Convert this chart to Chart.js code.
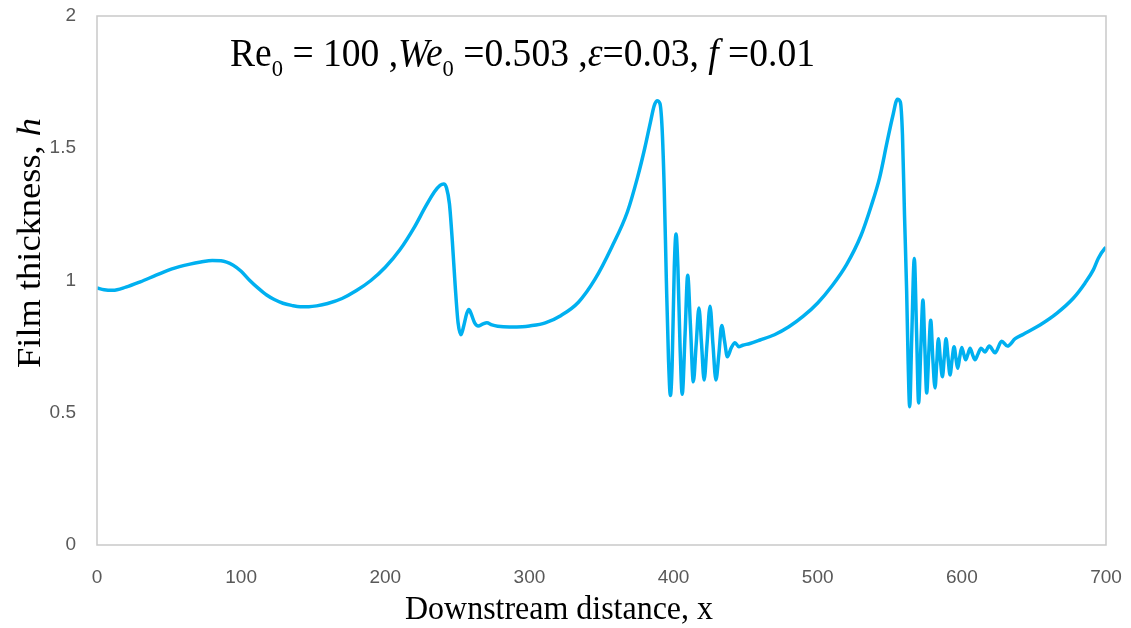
<!DOCTYPE html>
<html>
<head>
<meta charset="utf-8">
<script src="https://cdn.jsdelivr.net/npm/chart.js@4"></script>
<style>
  body { margin: 0; background: #fff; }
  #wrap { width: 1131px; height: 628px; position: relative; }
</style>
</head>
<body>
<div id="wrap"><canvas id="chart"></canvas></div>
<script>
// downstream distance x
const xValues = [
  0, 5, 11, 20, 30, 41, 52, 64.5, 72, 80, 86, 94.5, 100, 106, 112, 117.7, 123, 129, 135, 141, 147, 152.4,
  160, 170, 180, 190, 200, 210, 220, 228, 234, 238, 240.5, 242.5, 244.5, 246.5, 248.5, 250.5, 252.5,
  254.5, 256.5, 258, 259.5, 262, 264.5, 267.5, 270.5, 274, 278, 286, 295, 300, 311, 322, 334, 345.5,
  357, 368, 375, 380, 384, 386.5, 388.5, 390.5, 392, 393.5, 395, 396.5, 397.8, 399, 400.5, 401.7, 403,
  404.5, 406, 408, 409.8, 411.7, 413.7, 415.7, 417.6, 419.4, 421.2, 423.2, 425.3, 427.3, 429.4, 431.4,
  433.4, 435.4, 437.3, 440, 442.6, 445.2, 448, 453, 460, 470, 480, 490, 500, 510, 520, 530, 537, 543,
  548, 552, 555.3, 557.3, 558.8, 560.2, 561.7, 562.7, 563.8, 565.2, 567, 568.6, 570, 571.5, 573, 574.3,
  575.6, 577, 578.4, 579.9, 581.4, 582.6, 583.7, 585.1, 586.5, 587.8, 589, 590.4, 591.8, 593.2, 594.6,
  595.9, 597.1, 598.5, 599.9, 601.3, 602.7, 604.2, 605.7, 607.4, 609.1, 611.2, 613.3, 616, 619, 623,
  627.6, 631.6, 637, 642.7, 654.2, 665.8, 677.3, 685.4, 691.2, 694.7, 699.3, 700
]
// film thickness h
const hValues = [
  0.972, 0.965, 0.963, 0.975, 0.995, 1.02, 1.044, 1.062, 1.07, 1.076, 1.075, 1.058, 1.035, 1.0, 0.97,
  0.945, 0.928, 0.914, 0.906, 0.901, 0.901, 0.904, 0.913, 0.932, 0.962, 1.0, 1.05, 1.115, 1.2, 1.28,
  1.335, 1.36, 1.365, 1.35, 1.29, 1.15, 0.98, 0.84, 0.795, 0.83, 0.875, 0.89, 0.875, 0.84, 0.828,
  0.835, 0.84, 0.832, 0.827, 0.824, 0.825, 0.828, 0.84, 0.868, 0.918, 1.005, 1.125, 1.26, 1.39, 1.5,
  1.6, 1.66, 1.68, 1.67, 1.58, 1.35, 1.0, 0.7, 0.565, 0.68, 1.05, 1.176, 1.05, 0.75, 0.57, 0.8, 1.02,
  0.83, 0.617, 0.76, 0.896, 0.76, 0.624, 0.76, 0.903, 0.76, 0.624, 0.72, 0.83, 0.77, 0.712, 0.745,
  0.765, 0.75, 0.755, 0.762, 0.775, 0.795, 0.825, 0.865, 0.915, 0.98, 1.06, 1.17, 1.28, 1.39, 1.52,
  1.62, 1.685, 1.675, 1.55, 1.25, 0.96, 0.7, 0.523, 0.78, 1.083, 0.8, 0.537, 0.74, 0.926, 0.75, 0.575,
  0.72, 0.85, 0.7, 0.594, 0.69, 0.78, 0.7, 0.636, 0.71, 0.78, 0.71, 0.643, 0.7, 0.75, 0.705, 0.668,
  0.71, 0.747, 0.722, 0.7, 0.722, 0.744, 0.72, 0.7, 0.722, 0.744, 0.73, 0.752, 0.727, 0.77, 0.752,
  0.78, 0.797, 0.832, 0.876, 0.933, 0.99, 1.04, 1.084, 1.122, 1.125
]
const xTitle = 'Downstream distance, x'
const yTitleParts = [['Film thickness, ', false], ['h', true]]
// annotation: [text, italic, subscript]
const noteParts = [
  ['Re', false, false], ['0', false, true], [' = 100 ,', false, false],
  ['We', true, false], ['0', false, true], [' =0.503 ,', false, false],
  ['\u03b5', true, false], ['=0.03, ', false, false],
  ['f', true, false], [' =0.01', false, false],
]

const serif = '"Liberation Serif", "Times New Roman", serif'
const sans = '"Liberation Sans", Arial, sans-serif'

function drawParts(ctx, parts, size, x, y, targetWidth) {
  const fontFor = (p) => (p[1] ? 'italic ' : '') + (p[2] ? size * 0.6 : size) + 'px ' + serif
  let total = 0
  parts.forEach((p) => { ctx.font = fontFor(p); total += ctx.measureText(p[0]).width })
  const sx = targetWidth ? targetWidth / total : 1
  ctx.save()
  ctx.translate(x, y)
  ctx.scale(sx, 1)
  let cx = 0
  parts.forEach((p) => {
    ctx.font = fontFor(p)
    ctx.fillText(p[0], cx, p[2] ? size * 0.25 : 0)
    cx += ctx.measureText(p[0]).width
  })
  ctx.restore()
}

const decorations = {
  id: 'decorations',
  afterDraw(chart) {
    const ctx = chart.ctx
    const a = chart.chartArea
    ctx.save()
    ctx.strokeStyle = '#c9c9c9'
    ctx.lineWidth = 1.5
    ctx.strokeRect(a.left, a.top, a.right - a.left, a.bottom - a.top)
    ctx.fillStyle = '#000'
    ctx.textBaseline = 'alphabetic'
    ctx.textAlign = 'left'
    // x title
    drawParts(ctx, [[xTitle, false, false]], 34, 405, 619, 308)
    // y title
    ctx.save()
    ctx.translate(40, 368)
    ctx.rotate(-Math.PI / 2)
    drawParts(ctx, yTitleParts.map((p) => [p[0], p[1], false]), 34, 0, 0, 250)
    ctx.restore()
    // annotation
    drawParts(ctx, noteParts, 39, 230, 66, 585)
    ctx.restore()
  },
}

const points = xValues.map((x, i) => ({ x, y: hValues[i] }))

new Chart(document.getElementById('chart'), {
  type: 'line',
  data: {
    datasets: [
      {
        data: points,
        borderColor: '#00b0f0',
        borderWidth: 3.5,
        pointRadius: 0,
        fill: false,
        cubicInterpolationMode: 'monotone',
      },
    ],
  },
  options: {
    responsive: true,
    maintainAspectRatio: false,
    animation: false,
    layout: { padding: { top: 16, right: 25, left: 0, bottom: 0 } },
    plugins: { legend: { display: false }, tooltip: { enabled: false } },
    scales: {
      x: {
        type: 'linear',
        min: 0,
        max: 700,
        grid: { display: false, drawTicks: false },
        border: { display: false },
        ticks: { stepSize: 100, padding: 21, color: '#595959', font: { family: sans, size: 19 } },
        afterFit: (s) => {
          s.height = 83
          s.paddingLeft = 0
          s.paddingRight = 0
        },
      },
      y: {
        min: 0,
        max: 2,
        grid: { display: false, drawTicks: false },
        border: { display: false },
        ticks: {
          stepSize: 0.5,
          padding: 21,
          color: '#595959',
          font: { family: sans, size: 19 },
          callback: (v) => String(v),
        },
        afterFit: (s) => {
          s.width = 97
          s.paddingTop = 0
          s.paddingBottom = 0
        },
      },
    },
  },
  plugins: [decorations],
})
</script>
</body>
</html>
